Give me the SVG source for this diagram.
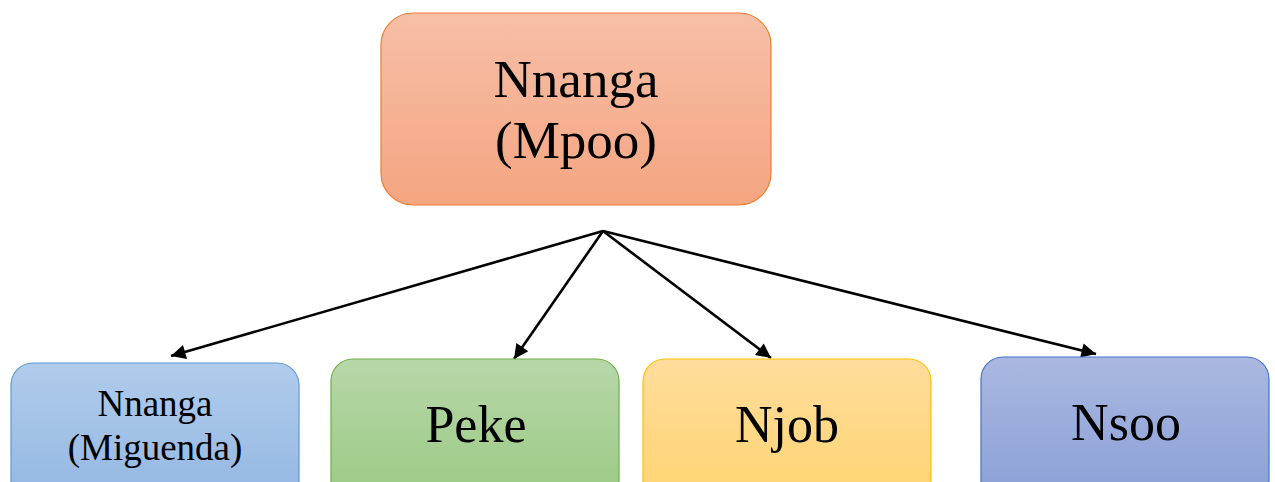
<svg xmlns="http://www.w3.org/2000/svg" width="1275" height="482" viewBox="0 0 1275 482">
<defs>
<linearGradient id="gOrange" x1="0" y1="0" x2="0" y2="1"><stop offset="0" stop-color="#F7BFA7"/><stop offset="1" stop-color="#F4A581"/></linearGradient>
<linearGradient id="gBlue" x1="0" y1="0" x2="0" y2="1"><stop offset="0" stop-color="#B0CCEB"/><stop offset="1" stop-color="#93B6E2"/></linearGradient>
<linearGradient id="gGreen" x1="0" y1="0" x2="0" y2="1"><stop offset="0" stop-color="#B7D7A9"/><stop offset="1" stop-color="#9ACA83"/></linearGradient>
<linearGradient id="gYellow" x1="0" y1="0" x2="0" y2="1"><stop offset="0" stop-color="#FFDC9C"/><stop offset="1" stop-color="#FFD470"/></linearGradient>
<linearGradient id="gPurple" x1="0" y1="0" x2="0" y2="1"><stop offset="0" stop-color="#AAB8E1"/><stop offset="1" stop-color="#899FD6"/></linearGradient>
<marker id="arr" viewBox="0 0 10 10" refX="10" refY="5" markerWidth="6.5" markerHeight="5.6" markerUnits="strokeWidth" orient="auto">
<path d="M0,0 L10,5 L0,10 z" fill="#000"/>
</marker>
<style>
text{font-family:"Liberation Serif","Times New Roman",serif;fill:#000;text-anchor:middle}
.conn{stroke:#000;stroke-width:2.6;fill:none;marker-end:url(#arr)}
.box{stroke-width:1.2}
</style>
</defs>
<rect width="1275" height="482" fill="#fff"/>
<g id="connectors">
<line class="conn" x1="603" y1="231" x2="171" y2="356"/>
<line class="conn" x1="603" y1="231" x2="514" y2="359"/>
<line class="conn" x1="603" y1="231" x2="771" y2="358"/>
<line class="conn" x1="603" y1="231" x2="1096" y2="354"/>
</g>
<g id="node-top">
<rect class="box" x="381" y="13" width="390" height="192" rx="32" fill="url(#gOrange)" stroke="#ED7D31"/>
<text x="576" y="97" font-size="53">Nnanga</text>
<text x="576" y="158" font-size="53">(Mpoo)</text>
</g>
<g id="node-miguenda">
<rect class="box" x="11" y="363" width="288" height="140" rx="22" fill="url(#gBlue)" stroke="#5B9BD5"/>
<text x="155" y="416" font-size="37">Nnanga</text>
<text x="155" y="460" font-size="37">(Miguenda)</text>
</g>
<g id="node-peke">
<rect class="box" x="331" y="359" width="288" height="144" rx="22" fill="url(#gGreen)" stroke="#70AD47"/>
<text x="476" y="442" font-size="52">Peke</text>
</g>
<g id="node-njob">
<rect class="box" x="643" y="359" width="288" height="144" rx="22" fill="url(#gYellow)" stroke="#FFC000"/>
<text x="787" y="442" font-size="52">Njob</text>
</g>
<g id="node-nsoo">
<rect class="box" x="981" y="357" width="288" height="146" rx="22" fill="url(#gPurple)" stroke="#4472C4"/>
<text x="1126" y="440" font-size="52">Nsoo</text>
</g>
</svg>
